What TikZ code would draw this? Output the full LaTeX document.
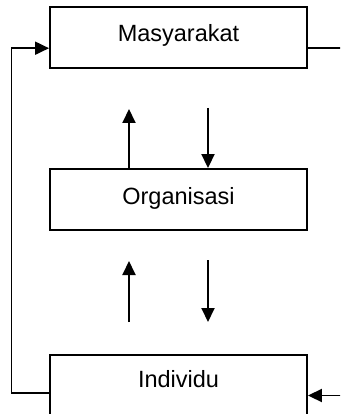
\documentclass[tikz,border=0pt]{standalone}
\usepackage{fontspec}
\setmainfont{Liberation Sans}
\usetikzlibrary{arrows.meta}
\begin{document}
\begin{tikzpicture}[x=1pt,y=-1pt,
  levelbox/.style={draw,line width=1.9pt,minimum width=257pt,minimum height=61pt,
    inner sep=0pt,font=\fontsize{23.5}{28}\selectfont,text height=17pt,text depth=8pt},
  link/.style={line width=1.9pt},
  arr/.style={link,-{Triangle[length=14pt,width=13pt]}}]
  \useasboundingbox (0,0) rectangle (340,414);
  \clip (0,0) rectangle (340,414);

  % the three levels
  \node[levelbox] (mas) at (178.5,37.5) {Masyarakat};
  \node[levelbox] (org) at (178.5,199.5) {Organisasi};
  \node[levelbox,text depth=13pt] (ind) at (178.5,385.5) {Individu};

  % free ends of the connectors
  \coordinate (outR) at (341,47.8);
  \coordinate (inR) at (341,395.5);
  \coordinate (upA) at (129,109);
  \coordinate (dnA) at (208,108);
  \coordinate (upB0) at (129,322);
  \coordinate (upB1) at (129,261);
  \coordinate (dnB0) at (208,260);
  \coordinate (dnB1) at (208,322);

  % feedback loop on the left
  \draw[arr] ([yshift=-7.2pt]ind.west) -- (11.5,392.7) -- (11.5,48.2) -- (mas.west |- 0,48.2);
  % lines on the right
  \draw[link] (mas.east |- outR) -- (outR);
  \draw[arr] (inR) -- (ind.east |- inR);

  % arrows between the levels
  \draw[arr] (org.north -| upA) -- (upA);
  \draw[arr] (dnA) -- (org.north -| dnA);
  \draw[arr] (upB0) -- (upB1);
  \draw[arr] (dnB0) -- (dnB1);
\end{tikzpicture}
\end{document}
